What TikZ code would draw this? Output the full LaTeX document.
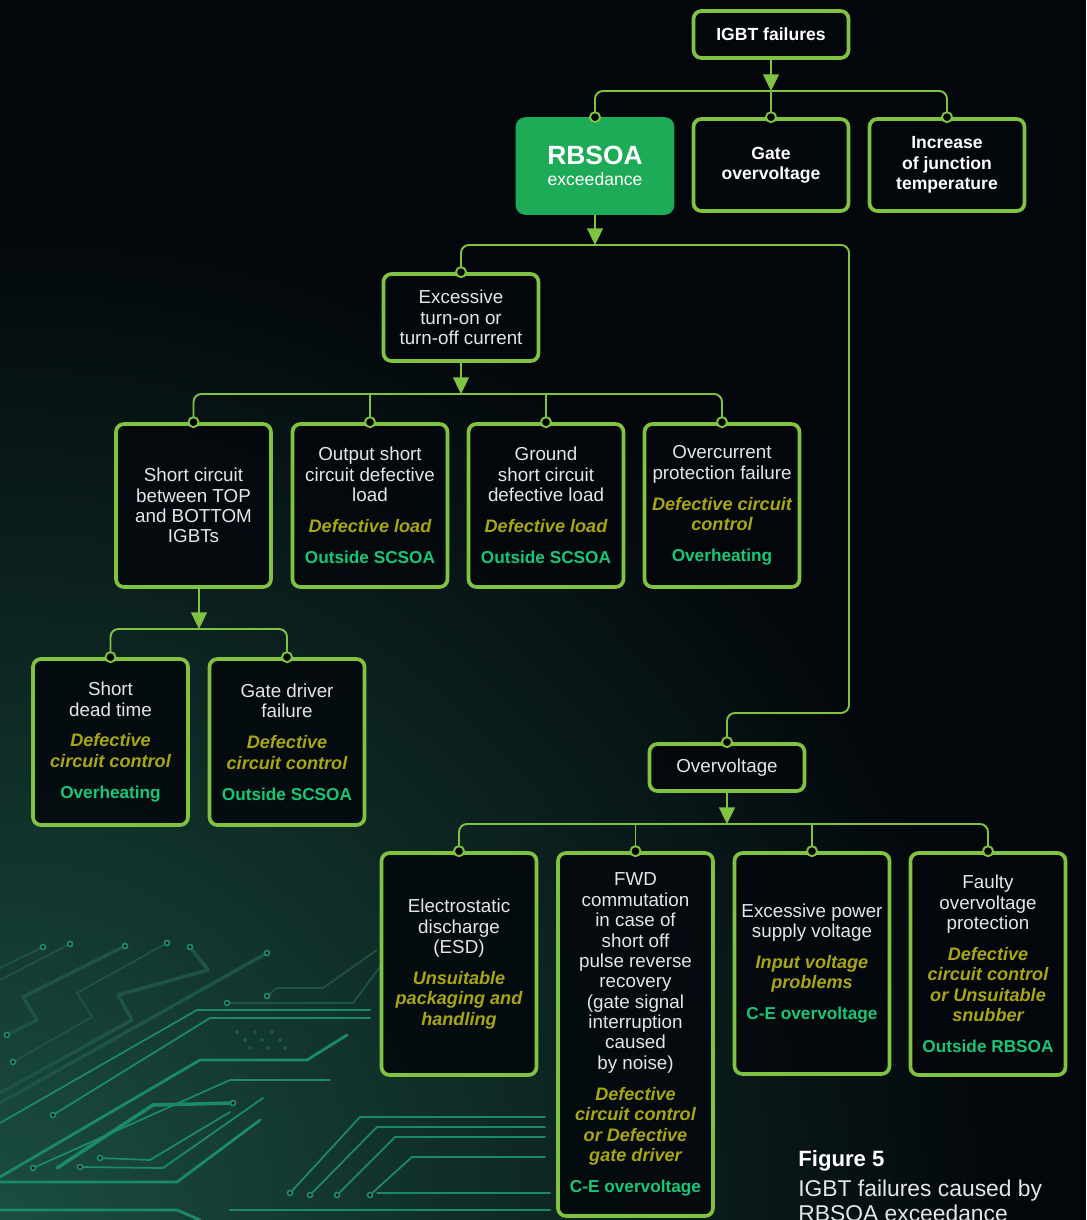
\documentclass[tikz,border=0pt]{standalone}
\usepackage{fontspec}
\setmainfont{Liberation Sans}
\usetikzlibrary{arrows.meta}

\definecolor{bgcol}{HTML}{03070C}
\definecolor{glowcol}{HTML}{1B4E40}
\definecolor{boxcol}{HTML}{80C342}
\definecolor{rbsoacol}{HTML}{1EAB58}
\definecolor{causecol}{HTML}{A9A515}
\definecolor{effectcol}{HTML}{18C776}
\definecolor{bodycol}{HTML}{E4E6E8}
\definecolor{tracedim}{HTML}{1D5444}
\definecolor{tracelit}{HTML}{1C8A68}

\newcommand{\causetxt}[1]{{\color{causecol}\fontsize{10.3}{11.6}\selectfont\bfseries\itshape #1}}
\newcommand{\effecttxt}[1]{{\color{effectcol}\fontsize{9.8}{11.6}\selectfont\bfseries #1}}

\begin{document}
\begin{tikzpicture}[x=0.02cm, y=-0.02cm,
  box/.style={draw=boxcol, line width=2.1pt, rounded corners=4.5pt, fill=bgcol, fill opacity=0.85, text opacity=1,
    minimum width=3.1cm, text width=3cm, align=flush center, inner sep=0pt, text=bodycol, font=\fontsize{10.7}{11.6}\selectfont},
  topbox/.style={box, text=white, font=\fontsize{10}{11.6}\selectfont\bfseries},
  bus/.style={draw=boxcol, line width=1.1pt, rounded corners=4.5pt},
  arr/.style={bus, -{Triangle[width=9pt, length=9.5pt]}},
  dot/.style={circle, draw=boxcol, fill=black, line width=1.1pt, minimum size=0.2cm, inner sep=0pt},
  trace/.style={draw=tracedim, line width=1pt, line cap=round, line join=round},
  tracelit/.style={trace, draw=tracelit}]

% Background
\useasboundingbox (0,0) rectangle (1086,1220);
\fill[bgcol] (0,0) rectangle (1086,1220);
\begin{scope}
  \clip (0,0) rectangle (1086,1220);
  \shade[inner color=glowcol, outer color=bgcol] (0,1220) circle (1000);
\end{scope}

% Circuit traces
\draw[trace] (43,947) -- (0,968);
\draw[trace] (70,944) -- (0,980);
\draw[trace, line width=2pt] (125,946) -- (23,997) -- (37,1020) -- (7,1035);
\draw[trace] (167,943) -- (77,993) -- (92,1017) -- (13,1062);
\draw[trace, line width=2pt] (190,947) -- (208,970) -- (118,995) -- (132,1020) -- (0,1093);
\draw[trace, line width=2pt] (267,953) -- (0,1103);
\draw[trace] (377,950) -- (323,988) -- (277,988) -- (267,996);
\draw[trace] (380,967) -- (353,1003) -- (227,1003);
\draw[tracelit] (370,1010) -- (197,1010) -- (0,1123);
\draw[tracelit] (370,1018) -- (210,1018) -- (53,1115);
\draw[tracelit, line width=1.6pt] (347,1035) -- (307,1060) -- (200,1060) -- (0,1177);
\draw[tracelit] (330,1080) -- (230,1080) -- (33,1168);
\draw[tracelit, line width=2pt] (233,1103) -- (153,1105) -- (57,1168);
\draw[tracelit] (230,1112) -- (150,1160) -- (100,1158);
\draw[tracelit] (263,1098) -- (163,1168) -- (80,1167);
\draw[tracelit, line width=1.6pt] (260,1120) -- (177,1182) -- (0,1182);
\draw[tracelit] (545,1117) -- (360,1117) -- (290,1193);
\draw[tracelit] (545,1127) -- (377,1127) -- (310,1195);
\draw[tracelit] (545,1137) -- (395,1137) -- (337,1195);
\draw[tracelit] (545,1157) -- (412,1157) -- (370,1195);
\draw[tracelit, line width=1.6pt] (0,1210) -- (177,1210) -- (200,1220);
\draw[tracelit, line width=1.6pt] (230,1210) -- (550,1210);
\draw[tracelit] (377,1193) -- (550,1193);
\foreach \px/\py in {43/947, 70/944, 125/946, 7/1035, 167/943, 13/1062, 190/947, 267/953, 267/996,
    227/1003, 53/1115, 33/1168, 100/1158, 80/1167, 233/1103, 290/1193, 310/1195, 337/1195, 370/1195}
  \fill[tracelit] (\px,\py) circle (2.5);
\foreach \px/\py in {237/1032, 255/1032, 272/1032, 245/1040, 262/1040, 280/1040, 250/1048, 268/1048, 285/1048}
  \fill[tracedim] (\px,\py) circle (2);

% Top level
\node[topbox, minimum height=0.94cm] (igbt) at (771,34.5) {IGBT failures};
\node[box, draw=rbsoacol, fill=rbsoacol, fill opacity=1, text=white, minimum height=1.88cm,
  font=\fontsize{10}{11.8}\selectfont] (rbsoa) at (595,166) {{\fontsize{15}{16}\selectfont\bfseries RBSOA}\\exceedance};
\node[topbox, minimum height=1.84cm] (gate) at (771,165) {Gate\\overvoltage};
\node[topbox, minimum height=1.84cm] (incr) at (947,165) {Increase\\of junction\\temperature};

% Second level
\node[box, minimum height=1.74cm] (exc) at (461,317.5) {Excessive\\turn-on or\\turn-off current};
\node[box, minimum height=0.94cm] (ov) at (727,767.5) {Overvoltage};

% Current failures
\node[box, minimum height=3.26cm] (sc) at (193.5,505.5) {Short circuit\\between TOP\\and BOTTOM\\IGBTs};
\node[box, minimum height=3.26cm] (os) at (370,505.5) {Output short\\circuit defective\\load\\[6pt]\causetxt{Defective load}\\[6pt]\effecttxt{Outside SCSOA}};
\node[box, minimum height=3.26cm] (gs) at (546,505.5) {Ground\\short circuit\\defective load\\[6pt]\causetxt{Defective load}\\[6pt]\effecttxt{Outside SCSOA}};
\node[box, minimum height=3.26cm] (oc) at (722,505.5) {Overcurrent\\protection failure\\[6pt]\causetxt{Defective circuit\\control}\\[6pt]\effecttxt{Overheating}};

% Short circuit causes
\node[box, minimum height=3.32cm] (sdt) at (110.5,742) {Short\\dead time\\[6pt]\causetxt{Defective\\circuit control}\\[6pt]\effecttxt{Overheating}};
\node[box, minimum height=3.32cm] (gdf) at (287,742) {Gate driver\\failure\\[6pt]\causetxt{Defective\\circuit control}\\[6pt]\effecttxt{Outside SCSOA}};

% Overvoltage causes
\node[box, minimum height=4.44cm] (esd) at (459,964) {Electrostatic\\discharge\\(ESD)\\[6pt]\causetxt{Unsuitable\\packaging and\\handling}};
\node[box, minimum height=7.26cm] (fwd) at (635.5,1034.5) {FWD\\commutation\\in case of\\short off\\pulse reverse\\recovery\\(gate signal\\interruption\\caused\\by noise)\\[6pt]\causetxt{Defective\\circuit control\\or Defective\\gate driver}\\[6pt]\effecttxt{C-E overvoltage}};
\node[box, minimum height=4.42cm] (eps) at (812,963.5) {Excessive power\\supply voltage\\[6pt]\causetxt{Input voltage\\problems}\\[6pt]\effecttxt{C-E overvoltage}};
\node[box, minimum height=4.44cm] (fault) at (988,964) {Faulty\\overvoltage\\protection\\[6pt]\causetxt{Defective\\circuit control\\or Unsuitable\\snubber}\\[6pt]\effecttxt{Outside RBSOA}};

% Bus points
\coordinate (b1) at (771,91);
\coordinate (b2) at (595,245);
\coordinate (rturn) at (849,713);
\coordinate (b3) at (461,394);
\coordinate (b4) at (199,629);
\coordinate (b5) at (727,824);

% Connections
\draw[arr] (igbt.south) -- (b1);
\draw[bus] (rbsoa.north) |- (b1) -| (incr.north);
\draw[bus] (gate.north) -- (b1);

\draw[arr] (rbsoa.south) -- (b2);
\draw[bus] (exc.north) |- (b2) -| (rturn) -| (ov.north);

\draw[arr] (exc.south) -- (b3);
\draw[bus] (sc.north) |- (b3) -| (oc.north);
\draw[bus] (os.north) -- (os.north |- b3);
\draw[bus] (gs.north) -- (gs.north |- b3);

\draw[arr] (sc.south -| b4) -- (b4);
\draw[bus] (sdt.north) |- (b4) -| (gdf.north);

\draw[arr] (ov.south) -- (b5);
\draw[bus] (esd.north) |- (b5) -| (fault.north);
\draw[bus] (fwd.north) -- (fwd.north |- b5);
\draw[bus] (eps.north) -- (eps.north |- b5);

% Dots
\foreach \n in {rbsoa,gate,incr,exc,sc,os,gs,oc,sdt,gdf,ov,esd,fwd,eps,fault}
  \node[dot] (\n-dot) at (\n.north) {};

% Caption
\node[anchor=base west, inner sep=0pt, text=white, font=\fontsize{12.6}{15}\selectfont\bfseries] (fig) at (798,1166) {Figure 5};
\node[anchor=base west, inner sep=0pt, text=bodycol, font=\fontsize{13}{15}\selectfont] (cap1) at (798,1196) {IGBT failures caused by};
\node[anchor=base west, inner sep=0pt, text=bodycol, font=\fontsize{13}{15}\selectfont] (cap2) at (798,1221) {RBSOA exceedance};

\end{tikzpicture}
\end{document}
